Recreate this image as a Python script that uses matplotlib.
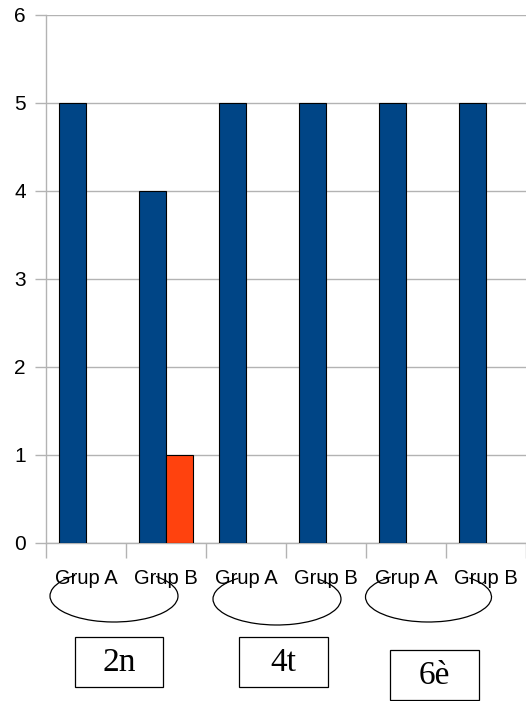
import matplotlib
matplotlib.use("Agg")
import matplotlib.pyplot as plt
from matplotlib.patches import Arc, Rectangle
import numpy as np

categories = ["Grup A", "Grup B", "Grup A", "Grup B", "Grup A", "Grup B"]
series1 = [5, 4, 5, 5, 5, 5]
series2 = [0, 1, 0, 0, 0, 0]
course_labels = ["2n", "4t", "6è"]
yticks = [0, 1, 2, 3, 4, 5, 6]

W, H = 526, 701
fig = plt.figure(figsize=(W / 100, H / 100), dpi=100)
ax = fig.add_axes([46 / W, 1 - 543 / H, 480 / W, 528 / H])

x = np.arange(len(categories))
bw = 27 / 80
for xi, v in zip(x, series1):
    if v:
        ax.bar(xi - bw / 2, v, width=bw, color="#004586", edgecolor="black", linewidth=0.8, zorder=3)
for xi, v in zip(x, series2):
    if v:
        ax.bar(xi + bw / 2, v, width=bw, color="#ff420e", edgecolor="black", linewidth=0.8, zorder=3)

ax.set_xlim(-0.5, len(categories) - 0.5)
ax.set_ylim(0, 6)
ax.set_yticks(yticks)
ax.set_yticklabels([str(t) for t in yticks], fontfamily="Liberation Sans", fontsize=15)
ax.yaxis.grid(True, color="#b3b3b3", linewidth=1, zorder=0)
ax.set_xticks(x)
ax.set_xticklabels(categories, fontfamily="Liberation Sans", fontsize=14.5)
ax.tick_params(axis="x", length=0, pad=19)
ax.set_xticks(np.arange(-0.5, len(categories)), minor=True)
ax.tick_params(axis="x", which="minor", length=11, color="#b3b3b3", width=1)
ax.tick_params(axis="y", length=8, color="#b3b3b3", width=1, pad=6.5)
for s in ["top", "right"]:
    ax.spines[s].set_visible(False)
for s in ["left", "bottom"]:
    ax.spines[s].set_color("#b3b3b3")
    ax.spines[s].set_linewidth(1)

# overlay in pixel coords
ov = fig.add_axes([0, 0, 1, 1])
ov.set_xlim(0, W)
ov.set_ylim(H, 0)
ov.axis("off")
ov.patch.set_alpha(0)

arcs = [(114, 596, 128, 52), (277, 599, 128, 52), (428.5, 597, 126, 50)]
for cx, cy, w, h in arcs:
    ov.add_patch(Arc((cx, cy), w, h, theta1=-25, theta2=208, color="black", linewidth=0.9))

boxes = [(75, 637, 88, 50), (239, 637, 89, 50), (390, 650, 89, 50)]
for (bx, by, bwid, bh), lab in zip(boxes, course_labels):
    ov.add_patch(Rectangle((bx, by), bwid, bh, fill=False, edgecolor="black", linewidth=0.9))
    ov.text(bx + bwid / 2, by + bh / 2 + 1, lab, ha="center", va="center",
            fontfamily="Liberation Serif", fontsize=24)

fig.savefig("out.png", dpi=100, facecolor="white")
